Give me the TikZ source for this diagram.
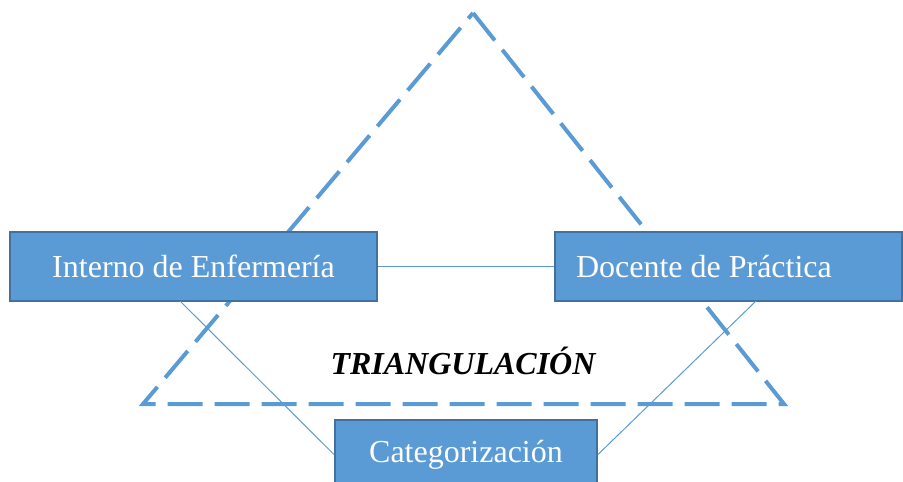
\documentclass[tikz,border=0pt]{standalone}
\usepackage{fontspec}
\setmainfont{Liberation Serif}
\usepackage{xcolor}
\definecolor{officeblue}{HTML}{5B9BD5}
\definecolor{officeedge}{HTML}{41719C}
\tikzset{box/.style={draw=officeedge, line width=2pt, fill=officeblue, text=white,
   minimum height=69pt, inner sep=0pt, font=\fontsize{32}{38}\selectfont},
 tri/.style={draw=officeblue, line width=4pt, dash pattern=on 35pt off 12pt},
 link/.style={draw=officeblue, line width=1pt},
 }

\begin{document}
\begin{tikzpicture}[x=1pt, y=-1pt]
        \useasboundingbox (0, 0) rectangle (903, 482);
        \draw [tri] (473, 13) -- (784, 404) -- (143, 404) -- cycle;
        \node [box, minimum width=367pt] (intern) at (193.5, 266.5) {Interno de Enfermería};
        \node [box, minimum width=347pt] (docente) at (728.5, 266.5) {\makebox[305pt][l]{Docente de Práctica}};
        \node [box, minimum width=262pt] (categ) at (466, 454.5) {Categorización};
        \coordinate (internfoot) at (180, 301);
        \coordinate (docentefoot) at (756, 301);
        \draw [link] (intern) -- (docente);
        \draw [link] (internfoot) -- (categ.west);
        \draw [link] (docentefoot) -- (categ.east);
        \node (title) at (463, 361) {\fontsize{32}{38}\selectfont\bfseries\itshape TRIANGULACIÓN};
    \end{tikzpicture}
\end{document}
